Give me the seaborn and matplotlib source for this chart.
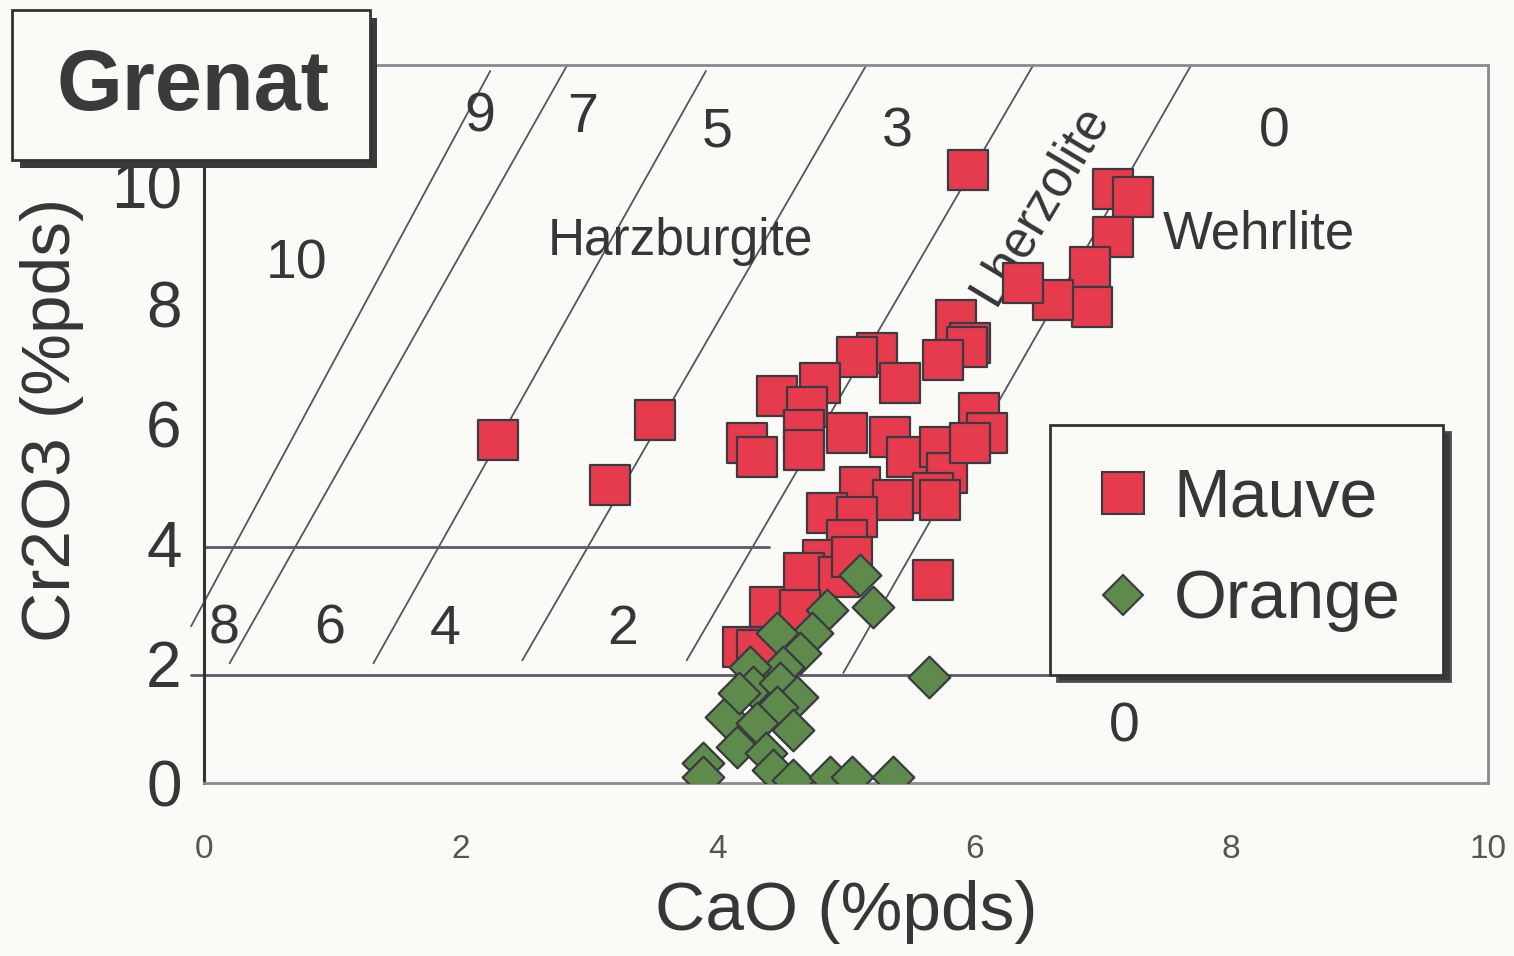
import pandas as pd
import matplotlib.pyplot as plt
from matplotlib.lines import Line2D
from matplotlib.patches import Rectangle
import seaborn as sns

# Garnet analyses, CaO and Cr2O3 in wt%
mauve_cao = [5.95, 2.29, 3.51, 3.16,
             7.08, 7.24, 7.08, 6.90, 6.92, 6.61, 6.38,
             5.86, 5.97, 5.94, 5.76,
             5.24, 5.09, 5.42, 4.80, 4.46, 4.70,
             6.04, 6.10, 4.23, 4.31, 4.67, 4.67,
             5.01, 5.34, 5.48, 5.73, 5.79, 5.97,
             5.11, 5.37, 5.68, 5.73, 4.85, 5.09, 5.01,
             4.82, 5.68, 4.41, 4.67, 4.95, 5.05, 4.64, 4.20, 4.31]
mauve_cr = [10.25, 5.74, 6.07, 4.98,
            9.92, 9.80, 9.13, 8.63, 7.96, 8.08, 8.36,
            7.74, 7.36, 7.29, 7.07,
            7.19, 7.12, 6.69, 6.69, 6.46, 6.29,
            6.19, 5.85, 5.69, 5.45, 5.90, 5.57,
            5.85, 5.79, 5.45, 5.62, 5.18, 5.69,
            4.95, 4.73, 4.85, 4.73, 4.52, 4.45, 4.06,
            3.73, 3.40, 2.94, 3.51, 3.44, 3.78, 2.89, 2.27, 2.22]

orange_cao = [5.11, 5.21, 4.85, 4.74, 4.46, 4.64, 4.51, 4.25, 4.28, 4.49,
              4.62, 4.46, 4.07, 4.31, 4.59, 4.15, 3.89, 3.89, 4.38, 4.43,
              4.59, 4.88, 5.05, 5.37, 5.65, 4.17]
orange_cr = [3.48, 2.94, 2.89, 2.51, 2.51, 2.17, 1.94, 1.94, 1.61, 1.67,
             1.44, 1.27, 1.10, 1.00, 0.89, 0.60, 0.33, 0.10, 0.50, 0.22,
             0.05, 0.10, 0.10, 0.10, 1.77, 1.51]

# field boundaries
diag_cao_bot = [-0.10, 0.20, 1.32, 2.48, 3.76, 4.98]
diag_cr_bot = [2.62, 2.00, 2.00, 2.05, 2.05, 1.84]
diag_cao_top = [2.23, 2.83, 3.91, 5.16, 6.46, 7.69]
diag_cr_top = [11.9, 12.0, 11.9, 12.0, 12.0, 12.0]
hline_cr = [3.95, 1.80]
hline_cao_start = [0.0, -0.1]
hline_cao_end = [4.4, 6.6]

# field numbers
field_labels = ['9', '7', '5', '3', '0', '10', '8', '6', '4', '2', '0']
field_x = [2.15, 2.95, 4.00, 5.40, 8.34, 0.72, 0.16, 0.98, 1.88, 3.26, 7.17]
field_y = [11.12, 11.12, 10.87, 10.87, 10.87, 8.66, 2.56, 2.56, 2.56, 2.56, 0.92]

bg = '#FAFAF6'
ink = '#363638'
red = '#E63B4C'
green = '#5E8A4B'
edge = '#3A3A42'

sns.set_style('white')
plt.rcParams['font.family'] = ['Liberation Sans', 'DejaVu Sans']

fig = plt.figure(figsize=(15.14, 9.56), dpi=100, facecolor=bg)
ax = fig.add_axes([0.1347, 0.181, 0.848, 0.751], facecolor=bg)

for x0, y0, x1, y1 in zip(diag_cao_bot, diag_cr_bot, diag_cao_top, diag_cr_top):
    ax.plot([x0, x1], [y0, y1], color='#55555f', lw=1.3, clip_on=False, zorder=1)
for yh, xa, xb in zip(hline_cr, hline_cao_start, hline_cao_end):
    ax.plot([xa, xb], [yh, yh], color='#5a5a68', lw=2, clip_on=False, zorder=1)

df_m = pd.DataFrame({'CaO': mauve_cao, 'Cr2O3': mauve_cr})
df_o = pd.DataFrame({'CaO': orange_cao, 'Cr2O3': orange_cr})
sns.scatterplot(data=df_m, x='CaO', y='Cr2O3', marker='s', s=840, color=red,
                edgecolor=edge, linewidth=1.6, ax=ax, zorder=3, legend=False)
sns.scatterplot(data=df_o, x='CaO', y='Cr2O3', marker='D', s=450, color=green,
                edgecolor=edge, linewidth=1.6, ax=ax, zorder=4, legend=False)

for lab, x, y in zip(field_labels, field_x, field_y):
    ax.text(x, y, lab, fontsize=40, color=ink, ha='center', va='center')
ax.text(3.71, 9.05, 'Harzburgite', fontsize=37, color=ink, ha='center', va='center')
ax.text(8.22, 9.16, 'Wehrlite', fontsize=38, color=ink, ha='center', va='center')
ax.text(6.51, 9.67, 'Lherzolite', fontsize=37, color=ink, ha='center', va='center',
        rotation=59, rotation_mode='anchor', zorder=2)

ax.set_xlim(0, 10)
ax.set_ylim(0, 12)
ax.set_xticks([0, 2, 4, 6, 8, 10])
ax.set_yticks([0, 2, 4, 6, 8, 10])
ax.tick_params(axis='x', direction='in', length=8, color='#888', labelsize=24,
               labelcolor='#555', pad=37)
ax.tick_params(axis='y', direction='in', length=14, color='#666', labelsize=46,
               labelcolor=ink, pad=16)
for side in ['top', 'right', 'bottom']:
    ax.spines[side].set_color('#8a8a94')
    ax.spines[side].set_linewidth(2)
ax.spines['left'].set_color('#333')
ax.spines['left'].set_linewidth(2.2)

ax.set_xlabel('CaO (%pds)', fontsize=50, color=ink)
ax.set_ylabel('Cr2O3 (%pds)', fontsize=50, color=ink)
ax.xaxis.set_label_coords(0.5, -0.135)
ax.yaxis.set_label_coords(-0.0935, 0.506)

handles = [Line2D([0], [0], marker='s', ls='none', ms=30, mfc=red, mec=edge, mew=1.5),
           Line2D([0], [0], marker='D', ms=20, ls='none', mfc=green, mec=edge, mew=1.5)]
leg = ax.legend(handles, ['Mauve', 'Orange'], loc='upper left',
                bbox_to_anchor=(0.659, 0.499), fontsize=49, frameon=True,
                fancybox=False, edgecolor='#333', framealpha=1, facecolor=bg,
                borderpad=0.62, labelspacing=0.55, handletextpad=0.3,
                handlelength=0.9, borderaxespad=0,
                shadow={'ox': 5, 'oy': -5, 'facecolor': '#3a3a3a', 'alpha': 1})
leg.get_frame().set_linewidth(2)
for t in leg.get_texts():
    t.set_color(ink)
leg.set_zorder(6)

# "Grenat" title box with shadow
W, H = 1514, 956
fig.add_artist(Rectangle((20 / W, 1 - 168 / H), 357 / W, 150 / H,
                         transform=fig.transFigure, fc='#3a3a3a', ec='none', zorder=5))
fig.add_artist(Rectangle((12 / W, 1 - 160 / H), 358 / W, 150 / H,
                         transform=fig.transFigure, fc=bg, ec='#333', lw=2, zorder=6))
fig.text(193 / W, 1 - 88 / H, 'Grenat', fontsize=61, fontweight='bold', color='#3a3a3a',
         ha='center', va='center', zorder=7)

fig.savefig('out.png', dpi=100, facecolor=bg)
